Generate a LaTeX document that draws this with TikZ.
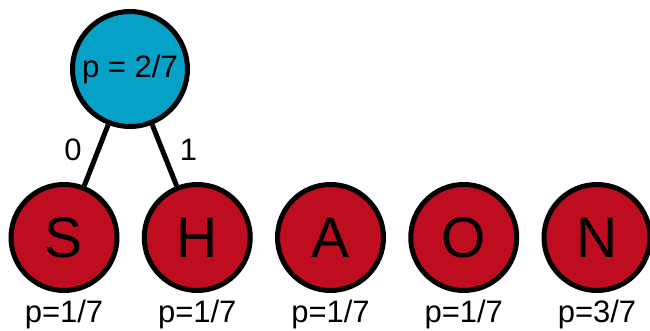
\documentclass[tikz,border=0pt]{standalone}
\usepackage{fontspec}
\setmainfont{Liberation Sans}
\usepackage{tikz}
\definecolor{hfBlue}{HTML}{05A1C7}
\definecolor{hfRed}{HTML}{BD0D1E}
\tikzset{
  inner/.style={circle,draw=black,line width=5pt,fill=hfBlue,minimum size=115pt,inner sep=0pt,font=\fontsize{31}{34}\selectfont},
  leaf/.style={circle,draw=black,line width=5pt,fill=hfRed,minimum size=106pt,inner sep=0pt,font=\fontsize{57}{60}\selectfont},
  plab/.style={anchor=base,inner sep=0pt,font=\fontsize{31}{34}\selectfont},
  bit/.style={font=\fontsize{31}{34}\selectfont,inner sep=2pt,yshift=6pt},
  edge/.style={line width=5pt}
}

\begin{document}
\begin{tikzpicture}[x=1pt,y=1pt]
\useasboundingbox (0,0) rectangle (650,330);
\def\ly{92.5}\def\dx{133.25}
\foreach \ch/\pr [count=\i from 0] in {S/1,H/1,A/1,O/1,N/3}{
  \node[leaf] (leaf\ch) at (64+\i*\dx,\ly) {\ch};
  \node[plab] (p\ch) at (64+\i*\dx,8) {p=\pr/7};
}
\node[inner] (root) at (130,261) {p = 2/7};
\draw[edge] (root) -- (leafS) node[bit,midway,left=10pt] (bit0) {0};
\draw[edge] (root) -- (leafH) node[bit,midway,right=11pt] (bit1) {1};
\end{tikzpicture}
\end{document}
